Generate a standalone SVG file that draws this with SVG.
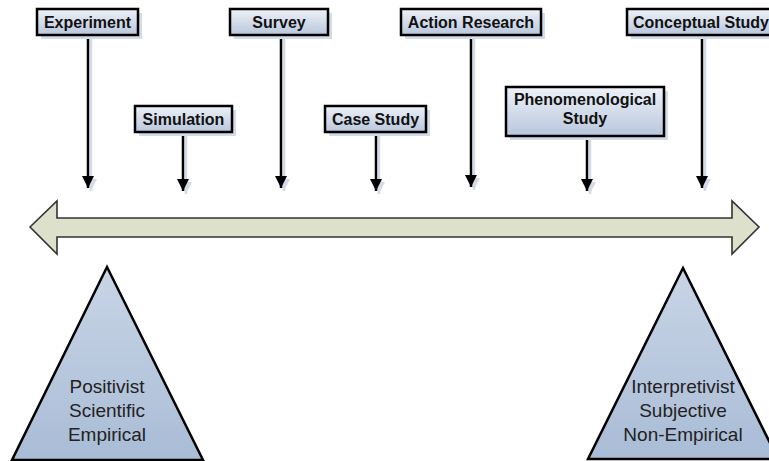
<svg xmlns="http://www.w3.org/2000/svg" width="769" height="461" viewBox="0 0 769 461">
<defs>
<linearGradient id="boxg" x1="0" y1="0" x2="0" y2="1">
<stop offset="0" stop-color="#eef2f8"/>
<stop offset="1" stop-color="#b8c6dc"/>
</linearGradient>
<linearGradient id="trig" x1="0" y1="0" x2="0" y2="1">
<stop offset="0" stop-color="#c9d5e6"/>
<stop offset="1" stop-color="#a9bcd6"/>
</linearGradient>
<marker id="ah" viewBox="0 0 12 12" refX="12" refY="6" markerWidth="12" markerHeight="12" markerUnits="userSpaceOnUse" orient="auto">
<path d="M0,0 L12,6 L0,12 Z" fill="#000"/>
</marker>
<marker id="ahs" viewBox="0 0 12 12" refX="12" refY="6" markerWidth="12" markerHeight="12" markerUnits="userSpaceOnUse" orient="auto">
<path d="M0,0 L12,6 L0,12 Z" fill="#d3dbe8"/>
</marker>
</defs>
<style>
.box{fill:url(#boxg);stroke:#000;stroke-width:2.5}
.sh{fill:#d3dbe8}
.bt{font-family:"Liberation Sans",Arial,sans-serif;font-weight:bold;font-size:16px;fill:#111;text-anchor:middle}
.tt{font-family:"Liberation Sans",Arial,sans-serif;font-size:19px;fill:#222;text-anchor:middle}
.tri{fill:url(#trig);stroke:#000;stroke-width:2.5;stroke-linejoin:miter}
.ln{stroke:#000;stroke-width:2.5;fill:none}
.lns{stroke:#d3dbe8;stroke-width:2.5;fill:none}
</style>
<rect width="769" height="461" fill="#fff"/>
<g id="connectors">
<path class="lns" d="M91,38 V191" marker-end="url(#ahs)"/>
<path class="lns" d="M186,135 V194" marker-end="url(#ahs)"/>
<path class="lns" d="M284,38 V191" marker-end="url(#ahs)"/>
<path class="lns" d="M379,135 V194" marker-end="url(#ahs)"/>
<path class="lns" d="M474,38 V190" marker-end="url(#ahs)"/>
<path class="lns" d="M590,139 V194" marker-end="url(#ahs)"/>
<path class="lns" d="M705,38 V191" marker-end="url(#ahs)"/>
<path class="ln" d="M88,35 V188" marker-end="url(#ah)"/>
<path class="ln" d="M183,132 V191" marker-end="url(#ah)"/>
<path class="ln" d="M281,35 V188" marker-end="url(#ah)"/>
<path class="ln" d="M376,132 V191" marker-end="url(#ah)"/>
<path class="ln" d="M471,35 V187" marker-end="url(#ah)"/>
<path class="ln" d="M587,136 V191" marker-end="url(#ah)"/>
<path class="ln" d="M702,35 V188" marker-end="url(#ah)"/>
</g>
<g id="experiment">
<rect class="sh" x="41" y="13" width="101" height="26"/>
<rect class="box" x="37" y="9" width="101" height="26"/>
<text class="bt" x="87.5" y="27.5">Experiment</text>
</g>
<g id="simulation">
<rect class="sh" x="139" y="110" width="97" height="26"/>
<rect class="box" x="135" y="106" width="97" height="26"/>
<text class="bt" x="183.5" y="124.5">Simulation</text>
</g>
<g id="survey">
<rect class="sh" x="234" y="13" width="98" height="26"/>
<rect class="box" x="230" y="9" width="98" height="26"/>
<text class="bt" x="279" y="27.5">Survey</text>
</g>
<g id="case-study">
<rect class="sh" x="329" y="110" width="101" height="26"/>
<rect class="box" x="325" y="106" width="101" height="26"/>
<text class="bt" x="375.5" y="124.5">Case Study</text>
</g>
<g id="action-research">
<rect class="sh" x="405" y="13" width="140" height="26"/>
<rect class="box" x="401" y="9" width="140" height="26"/>
<text class="bt" x="471" y="27.5">Action Research</text>
</g>
<g id="phenomenological-study">
<rect class="sh" x="510" y="91" width="158" height="49"/>
<rect class="box" x="506" y="87" width="158" height="49"/>
<text class="bt" x="585" y="105">Phenomenological</text>
<text class="bt" x="585" y="124">Study</text>
</g>
<g id="conceptual-study">
<rect class="sh" x="631" y="13" width="150" height="26"/>
<rect class="box" x="627" y="9" width="150" height="26"/>
<text class="bt" x="701" y="27.5">Conceptual Study</text>
</g>
<g id="spectrum-arrow">
<path d="M30,227 L57,201 L57,218 L732,218 L732,201 L759,227 L732,254 L732,237 L57,237 L57,254 Z" fill="#dde0cb" stroke="#333" stroke-width="1.6" stroke-linejoin="miter"/>
</g>
<g id="positivist">
<path class="tri" d="M107,267 L203,460 L12,460 Z"/>
<text class="tt" x="107" y="393">Positivist</text>
<text class="tt" x="107" y="417">Scientific</text>
<text class="tt" x="107" y="441">Empirical</text>
</g>
<g id="interpretivist">
<path class="tri" d="M683,268 L778,459 L588,459 Z"/>
<text class="tt" x="683" y="393">Interpretivist</text>
<text class="tt" x="683" y="417">Subjective</text>
<text class="tt" x="683" y="441">Non-Empirical</text>
</g>
</svg>
